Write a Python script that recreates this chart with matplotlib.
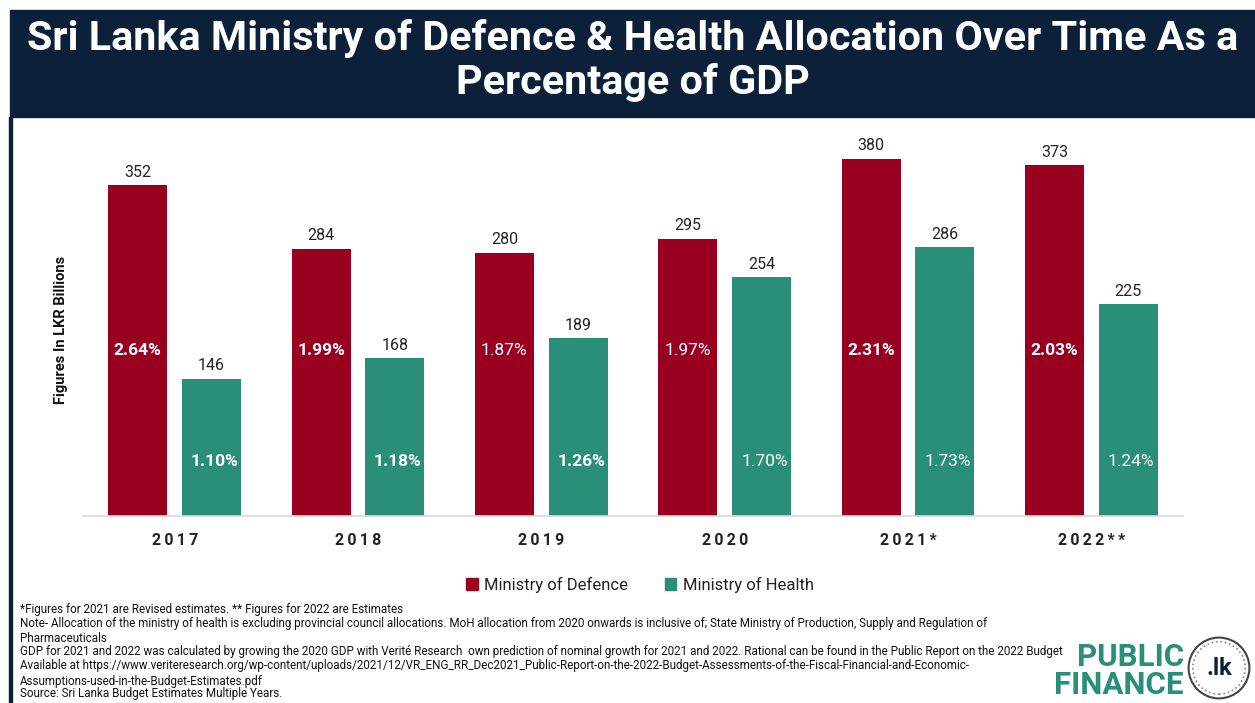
import matplotlib
matplotlib.use("Agg")
import matplotlib.pyplot as plt
from matplotlib.patches import Rectangle, Circle, Patch
import numpy as np

plt.rcParams['font.family'] = ['Roboto', 'DejaVu Sans']

years = ['2017', '2018', '2019', '2020', '2021*', '2022**']
defence = [352, 284, 280, 295, 380, 373]
health = [146, 168, 189, 254, 286, 225]
defence_pct = ['2.64%', '1.99%', '1.87%', '1.97%', '2.31%', '2.03%']
health_pct = ['1.10%', '1.18%', '1.26%', '1.70%', '1.73%', '1.24%']
defence_pct_bold = [True, True, False, False, True, True]
health_pct_bold = [True, True, True, False, False, False]

footnotes = [
    "*Figures for 2021 are Revised estimates. ** Figures for 2022 are Estimates",
    "Note- Allocation of the ministry of health is excluding provincial council allocations. MoH allocation from 2020 onwards is inclusive of; State Ministry of Production, Supply and Regulation of",
    "Pharmaceuticals",
    "GDP for 2021 and 2022 was calculated by growing the 2020 GDP with Verité Research  own prediction of nominal growth for 2021 and 2022. Rational can be found in the Public Report on the 2022 Budget",
    "Available at https://www.veriteresearch.org/wp-content/uploads/2021/12/VR_ENG_RR_Dec2021_Public-Report-on-the-2022-Budget-Assessments-of-the-Fiscal-Financial-and-Economic-",
    "Assumptions-used-in-the-Budget-Estimates.pdf",
    "Source: Sri Lanka Budget Estimates Multiple Years.",
]

RED = '#990020'
GREEN = '#2a8f78'
NAVY = '#0c2039'
W, H = 1255, 703

fig = plt.figure(figsize=(W / 100, H / 100), dpi=100)
renderer = fig.canvas.get_renderer()


def fx(px):
    return px / W


def fy(py):
    return 1 - py / H


def fit(t, width_px):
    w = t.get_window_extent(renderer).width
    t.set_fontsize(t.get_fontsize() * width_px / w)


# title banner + left border
fig.patches.append(Rectangle((fx(10), fy(117)), 1 - fx(10), fy(10) - fy(117),
                             transform=fig.transFigure, color=NAVY, zorder=0))
fig.patches.append(Rectangle((fx(9), 0), fx(3), fy(117),
                             transform=fig.transFigure, color=NAVY, zorder=0))

t1 = fig.text(fx(633), fy(38), "Sri Lanka Ministry of Defence & Health Allocation Over Time As a",
              color='white', fontsize=28, fontweight='bold', ha='center', va='center',
              fontstretch='condensed')
fit(t1, 1210)
fig.text(fx(633), fy(82), "Percentage of GDP", color='white', fontsize=t1.get_fontsize(),
         fontweight='bold', ha='center', va='center', fontstretch='condensed')

# chart area
ax = fig.add_axes([fx(83), fy(516), fx(1183) - fx(83), fy(130) - fy(516)])
x = np.arange(len(years))
bw = 0.322
off = 0.2017
ax.bar(x - off, defence, bw, color=RED, label='Ministry of Defence')
ax.bar(x + off, health, bw, color=GREEN, label='Ministry of Health')
ax.set_xlim(-0.5, len(years) - 0.5)
ax.set_ylim(0, 410.6)

for i in range(len(years)):
    ax.annotate(str(defence[i]), (x[i] - off, defence[i]), xytext=(0, 4),
                textcoords='offset points', ha='center', va='bottom', fontsize=11.5, color='#222222')
    ax.annotate(str(health[i]), (x[i] + off, health[i]), xytext=(0, 4),
                textcoords='offset points', ha='center', va='bottom', fontsize=11.5, color='#222222')
    ax.text(x[i] - off, 176.5, defence_pct[i], ha='center', va='center', color='white',
            fontsize=12.5, fontweight='bold' if defence_pct_bold[i] else 'normal')
    ax.text(x[i] + off + 0.015, 58.5, health_pct[i], ha='center', va='center', color='white',
            fontsize=12.5, fontweight='bold' if health_pct_bold[i] else 'normal')

for s in ['top', 'right', 'left']:
    ax.spines[s].set_visible(False)
ax.spines['bottom'].set_color('#d9d9d9')
ax.spines['bottom'].set_linewidth(1.2)
ax.set_yticks([])
ax.set_xticks(x)
ax.set_xticklabels(['\u2009'.join(y) for y in years], fontsize=11.5, fontweight='bold',
                   color='#222222')
ax.tick_params(axis='x', length=0, pad=12)

fig.text(fx(61), fy(330), "Figures In LKR Billions", rotation=90, ha='center', va='center',
         fontsize=10.5, fontweight='bold', color='#111111')

handles = [Patch(color=RED, label='Ministry of Defence'), Patch(color=GREEN, label='Ministry of Health')]
fig.legend(handles=handles, loc='center', bbox_to_anchor=(fx(640), fy(585)), ncol=2,
           frameon=False, fontsize=12, handlelength=0.7, handleheight=0.7,
           handletextpad=0.4, columnspacing=2.2, labelcolor='#222222')

# footnotes
ys = [609, 623, 638, 652, 666, 681, 694]
ft = []
for txt, yy in zip(footnotes, ys):
    ft.append(fig.text(fx(20), fy(yy), txt, ha='left', va='center', fontsize=8,
                       color='#111111', fontstretch='condensed'))
fit(ft[3], 1043)
for t in ft:
    t.set_fontsize(ft[3].get_fontsize())

# logo
fig.text(fx(1184), fy(671), "PUBLIC\nFINANCE", ha='right', va='center', color=GREEN,
         fontsize=22.5, fontweight='bold', multialignment='right', linespacing=0.95)
logo_ax = fig.add_axes([fx(1187), fy(700), fx(64), fy(636) - fy(700)])
logo_ax.set_xlim(-1, 1)
logo_ax.set_ylim(-1, 1)
logo_ax.set_aspect('equal')
logo_ax.axis('off')
logo_ax.add_patch(Circle((0, 0), 0.95, fill=False, ec='#444444', lw=1.5))
logo_ax.add_patch(Circle((0, 0), 0.82, fill=False, ec='#888888', lw=1.2, ls=':'))
logo_ax.text(0, -0.02, ".lk", ha='center', va='center', fontsize=17, fontweight='bold', color=NAVY)

fig.savefig('out.png', dpi=100)
